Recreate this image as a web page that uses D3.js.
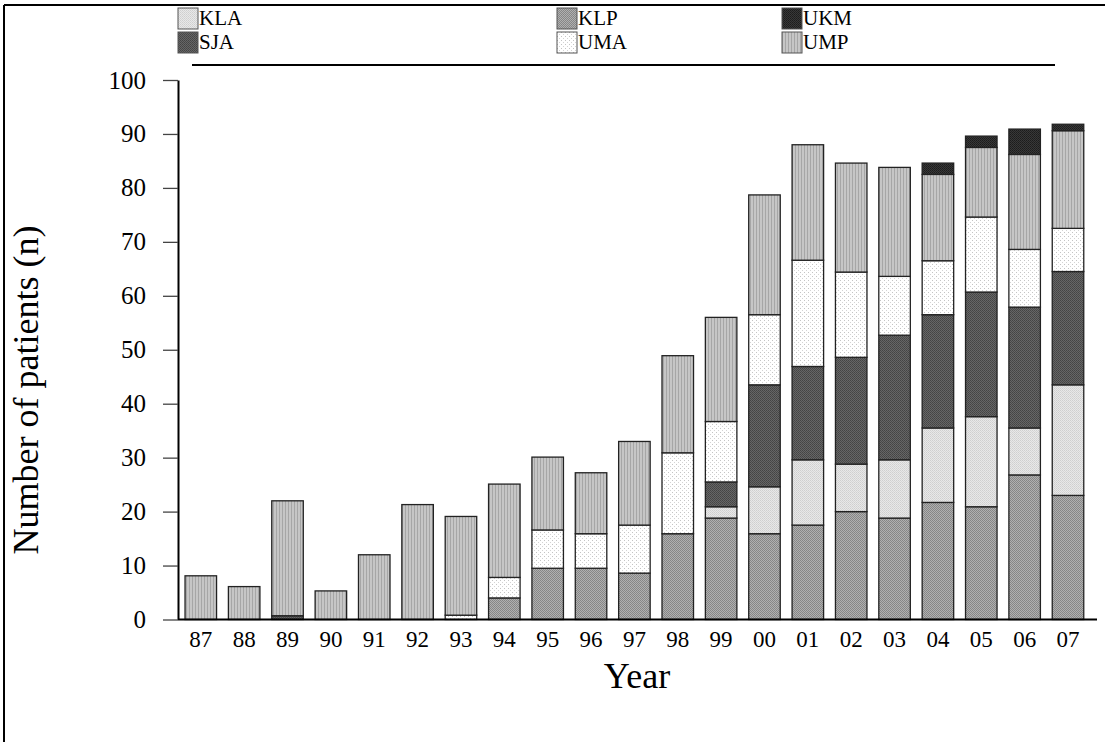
<!DOCTYPE html>
<html>
<head>
<meta charset="utf-8">
<script src="https://cdn.jsdelivr.net/npm/d3@7/dist/d3.min.js"></script>
<style>
  html, body { margin: 0; padding: 0; background: #fff; }
  svg, svg text { font-family: "Liberation Serif", "Times New Roman", serif; }
</style>
</head>
<body>
<svg id="chart" width="1105" height="742"></svg>
<script>
// Patient counts per year, split by centre
const years = ["87","88","89","90","91","92","93","94","95","96","97","98","99","00","01","02","03","04","05","06","07"];
const centres = ["KLP","KLA","SJA","UMA","UMP","UKM"];           // stacking order, bottom to top
const KLP = [0,0,0,0,0,0,0,4.0,9.5,9.5,8.6,15.9,18.8,15.9,17.5,20.0,18.8,21.7,20.9,26.8,23.0];
const KLA = [0,0,0,0,0,0,0,0,0,0,0,0,2.1,8.7,12.1,8.8,10.8,13.8,16.7,8.7,20.5];
const SJA = [0,0,0.7,0,0,0,0,0,0,0,0,0,4.6,18.9,17.3,19.8,23.1,21.0,23.1,22.4,21.0];
const UMA = [0,0,0,0,0,0,0.8,3.8,7.1,6.4,8.9,15.0,11.2,13.0,19.7,15.8,10.9,10.0,13.9,10.7,8.0];
const UMP = [8.1,6.1,21.3,5.3,12.0,21.3,18.3,17.3,13.5,11.3,15.5,18.0,19.3,22.2,21.4,20.2,20.2,16.0,12.9,17.6,18.1];
const UKM = [0,0,0,0,0,0,0,0,0,0,0,0,0,0,0,0,0,2.1,2.1,4.7,1.2];
const yTicks = [0,10,20,30,40,50,60,70,80,90,100];
const legendOrder = [["KLA","KLP","UKM"],["SJA","UMA","UMP"]];

const seriesValues = {KLP, KLA, SJA, UMA, UMP, UKM};
const rows = years.map((yr, i) => {
  const r = {year: yr};
  centres.forEach(c => r[c] = seriesValues[c][i]);
  return r;
});

const svg = d3.select("#chart");

// Fill textures for each centre
const defs = svg.append("defs");
function texture(id, size, bg, marks) {
  const p = defs.append("pattern").attr("id", id)
    .attr("patternUnits", "userSpaceOnUse").attr("width", size).attr("height", size);
  p.append("rect").attr("width", size).attr("height", size).attr("fill", bg);
  marks.forEach(m => p.append("rect").attr("x", m[0]).attr("y", m[1])
    .attr("width", m[2]).attr("height", m[3]).attr("fill", m[4]));
}
texture("p-KLP", 2, "#b0b0b0", [[0,0,1,1,"#858585"],[1,1,1,1,"#888888"]]);
texture("p-KLA", 2, "#e8e8e8", [[0,0,1,1,"#cfcfcf"],[1,1,1,1,"#d6d6d6"]]);
texture("p-SJA", 2, "#666666", [[0,0,1,1,"#444444"],[1,1,1,1,"#4a4a4a"]]);
texture("p-UMA", 4, "#ffffff", [[0,0,1,1,"#c4c4c4"],[2,2,1,1,"#d4d4d4"]]);
texture("p-UMP", 3, "#c6c6c6", [[0,0,1,3,"#a6a6a6"]]);
texture("p-UKM", 2, "#383838", [[0,0,1,1,"#1c1c1c"],[1,1,1,1,"#222222"]]);
const fillOf = c => `url(#p-${c})`;

// Frame
svg.append("line").attr("x1", 4).attr("x2", 1105).attr("y1", 5).attr("y2", 5)
  .attr("stroke", "#000").attr("stroke-width", 2);
svg.append("line").attr("x1", 4).attr("x2", 4).attr("y1", 5).attr("y2", 742)
  .attr("stroke", "#000").attr("stroke-width", 2);

// Scales
const x = d3.scaleBand().domain(years).range([180.7, 1088.1]).paddingInner(0.273).paddingOuter(0.1);
const y = d3.scaleLinear().domain([0, 100]).range([619.5, 80]);

// Stacked bars
const stack = d3.stack().keys(centres);
const layers = stack(rows);
const g = svg.append("g");
layers.forEach(layer => {
  g.append("g").selectAll("rect")
    .data(layer.filter(d => d[1] - d[0] > 0))
    .join("rect")
    .attr("x", d => x(d.data.year))
    .attr("width", x.bandwidth())
    .attr("y", d => y(d[1]))
    .attr("height", d => y(d[0]) - y(d[1]))
    .attr("fill", fillOf(layer.key))
    .attr("stroke", "#222")
    .attr("stroke-width", 1.3);
});

// Y axis
const yAxis = d3.axisLeft(y).tickValues(yTicks).tickSize(15).tickSizeOuter(0).tickPadding(17);
const ya = svg.append("g").attr("transform", "translate(178,0)").call(yAxis)
  .attr("font-family", null).attr("font-size", null);
ya.select(".domain").attr("stroke", "#000").attr("stroke-width", 2);
ya.selectAll(".tick line").attr("stroke", "#444").attr("stroke-width", 1.3);
ya.selectAll(".tick text").attr("font-size", 25).attr("fill", "#000");

// X axis baseline and year labels
svg.append("line").attr("x1", 178).attr("x2", 1097).attr("y1", y(0)).attr("y2", y(0))
  .attr("stroke", "#000").attr("stroke-width", 2);
const xa = svg.append("g").attr("transform", `translate(0,${y(0)})`)
  .call(d3.axisBottom(x).tickSize(0).tickSizeOuter(0).tickPadding(11))
  .attr("font-family", null).attr("font-size", null);
xa.select(".domain").remove();
xa.selectAll(".tick text").attr("font-size", 23).attr("fill", "#000");

// Axis titles
svg.append("text").attr("x", 637).attr("y", 688).attr("text-anchor", "middle")
  .attr("font-size", 36).text("Year");
svg.append("text").attr("transform", "translate(38,390) rotate(-90)")
  .attr("text-anchor", "middle").attr("font-size", 36).text("Number of patients (n)");

// Legend
const legX = [178, 557, 782];
const legY = [8, 32];
legendOrder.forEach((row, ri) => row.forEach((c, ci) => {
  const lg = svg.append("g").attr("transform", `translate(${legX[ci]},${legY[ri]})`);
  lg.append("rect").attr("width", 20).attr("height", 21)
    .attr("fill", fillOf(c)).attr("stroke", "#555").attr("stroke-width", 1);
  lg.append("text").attr("x", 21).attr("y", 17).attr("font-size", 21).text(c);
}));

// Rule under the legend
svg.append("line").attr("x1", 192).attr("x2", 1055).attr("y1", 65).attr("y2", 65)
  .attr("stroke", "#000").attr("stroke-width", 2);
</script>
</body>
</html>
